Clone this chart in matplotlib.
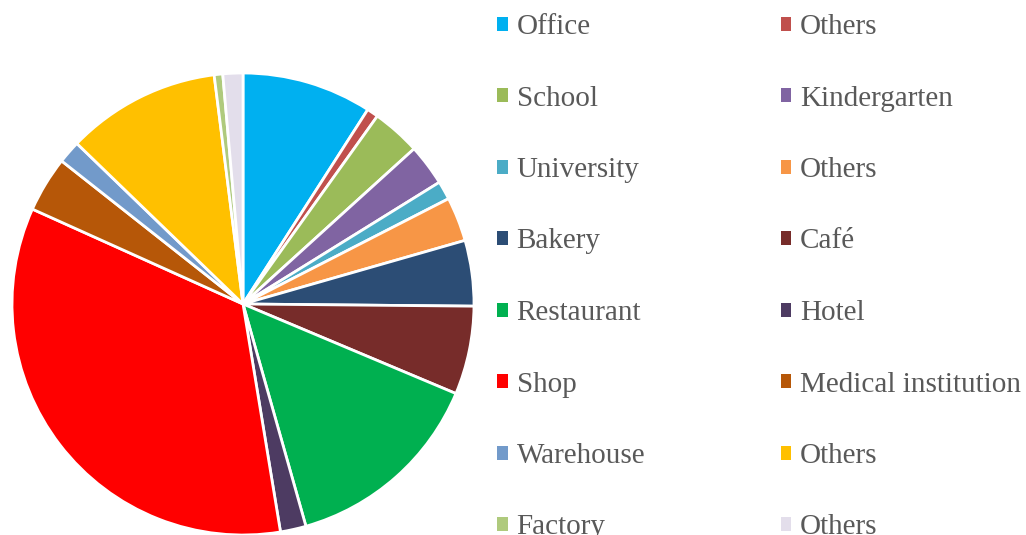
import matplotlib.pyplot as plt
from matplotlib.patches import Patch

# building-use shares (%), clockwise from 12 o'clock
labels = [
    "Office", "Others", "School", "Kindergarten", "University", "Others",
    "Bakery", "Café", "Restaurant", "Hotel", "Shop", "Medical institution",
    "Warehouse", "Others", "Factory", "Others",
]
shares = [9.1, 0.8, 3.4, 2.9, 1.3, 3.1, 4.6, 6.2, 14.3, 1.8, 34.4, 3.9, 1.6, 10.8, 0.6, 1.4]
colors = [
    "#00B0F0", "#C0504D", "#9BBB59", "#8064A2", "#4BACC6", "#F79646",
    "#2C4D75", "#772C2A", "#00B050", "#4D3B62", "#FF0000", "#B65708",
    "#729ACA", "#FFC000", "#AFCA7D", "#E3DEEB",
]

W, H = 1026, 535
fig = plt.figure(figsize=(W / 100, H / 100), dpi=100)

cx, cy, r = 243, 304, 231
ax = fig.add_axes([(cx - r) / W, (H - cy - r) / H, 2 * r / W, 2 * r / H])
ax.pie(
    shares,
    colors=colors,
    startangle=90,
    counterclock=False,
    radius=1.0,
    wedgeprops={"edgecolor": "white", "linewidth": 2.0},
)
ax.set_xlim(-1, 1)
ax.set_ylim(-1, 1)
ax.set_aspect("equal")
ax.axis("off")

# legend laid out row-wise in two columns
handles = [Patch(facecolor=c, edgecolor="none") for c in colors]
order = list(range(0, len(labels), 2)) + list(range(1, len(labels), 2))
leg = fig.legend(
    [handles[i] for i in order],
    [labels[i] for i in order],
    ncol=2,
    loc="upper left",
    bbox_to_anchor=(497 / W, 1 - 14 / H),
    frameon=False,
    prop={"family": "Liberation Serif", "size": 21.0},
    handlelength=0.36,
    handleheight=0.36,
    handletextpad=0.31,
    labelspacing=1.56,
    columnspacing=4.64,
    borderaxespad=0,
    borderpad=0,
)
for t in leg.get_texts():
    t.set_color("#595959")

fig.savefig("out.png", dpi=100)
